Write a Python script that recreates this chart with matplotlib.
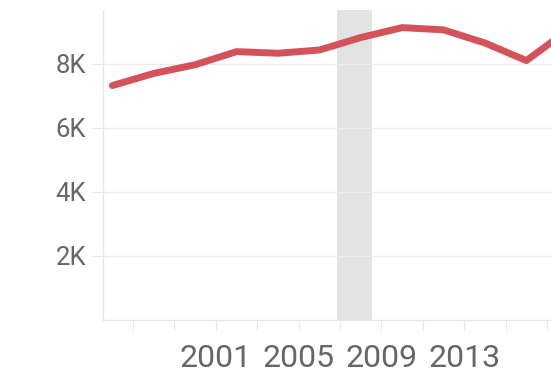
import matplotlib
matplotlib.use("Agg")
import matplotlib.pyplot as plt

years = [1996, 1998, 2000, 2002, 2004, 2006, 2008, 2010, 2012, 2014, 2016, 2018]
values = [7320, 7700, 7970, 8380, 8330, 8430, 8820, 9130, 9060, 8650, 8100, 9050]
band_start, band_end = 2006.85, 2008.55
tick_years = [1997, 1999, 2001, 2003, 2005, 2007, 2009, 2011, 2013, 2015, 2017]
tick_labels = ["", "", "2001", "", "2005", "", "2009", "", "2013", "", ""]
y_ticks = [2000, 4000, 6000, 8000]
y_labels = ["2K", "4K", "6K", "8K"]

W, H = 551, 377
fig = plt.figure(figsize=(W / 100, H / 100), dpi=100)
left, right, top, bottom = 103, 551, 10, 320
ax = fig.add_axes([left / W, 1 - bottom / H, (right - left) / W, (bottom - top) / H])

ax.axvspan(band_start, band_end, color="#e3e3e3", lw=0, zorder=1)
ax.plot(years, values, color="#d4525a", lw=5, solid_capstyle="round",
        solid_joinstyle="round", zorder=3)

ax.set_xlim(1995.55, 2017.19)
ax.set_ylim(0, 9680)

ax.set_yticks(y_ticks)
ax.set_yticklabels(y_labels)
ax.set_xticks(tick_years)
ax.set_xticklabels(tick_labels)

ax.grid(axis="y", color="#ececec", lw=1, zorder=0)
for s in ["top", "right"]:
    ax.spines[s].set_visible(False)
for s in ["left", "bottom"]:
    ax.spines[s].set_color("#e6e6e6")
    ax.spines[s].set_linewidth(1)

ax.tick_params(axis="y", length=8, color="#e6e6e6", pad=4, labelsize=18.5,
               labelcolor="#666666")
ax.tick_params(axis="x", length=7, color="#e6e6e6", pad=10, labelsize=23,
               labelcolor="#666666")
for lab in ax.get_xticklabels() + ax.get_yticklabels():
    lab.set_fontfamily("Roboto")

fig.savefig("out.png", dpi=100)
